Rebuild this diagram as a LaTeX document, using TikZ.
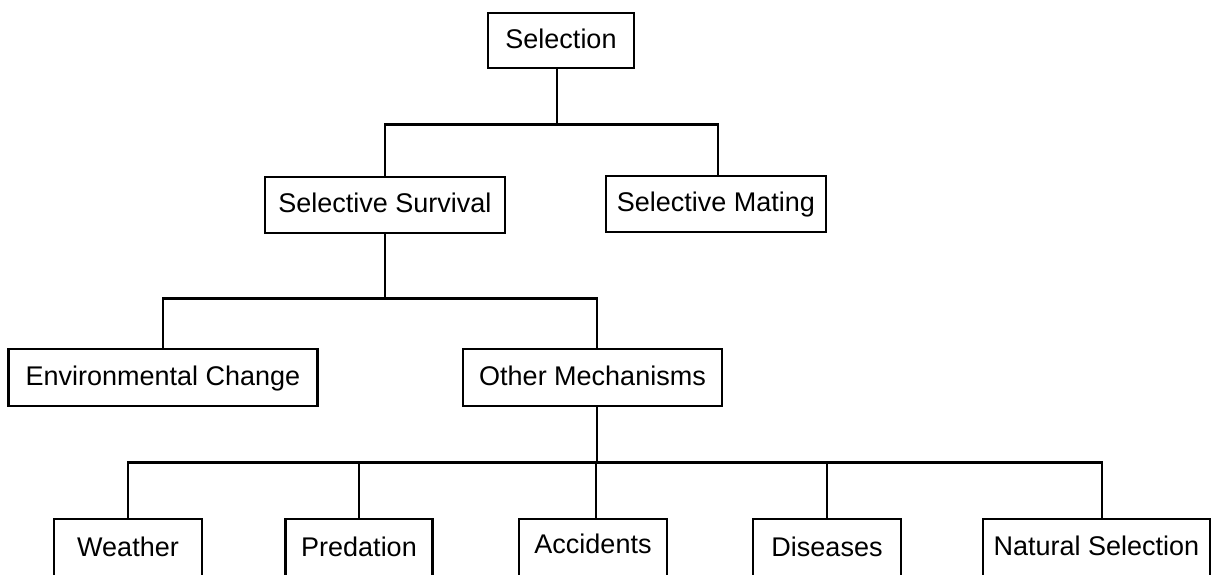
\documentclass[tikz,border=0pt]{standalone}
\usepackage{fontspec}
\setmainfont{Liberation Sans}
\begin{document}
\begin{tikzpicture}[x=1pt,y=-1pt,
  box/.style={draw=black, line width=2.6pt, fill=white, inner sep=0pt,
    minimum height=56pt, font=\fontsize{27}{32}\selectfont,
    text height=19.5pt, text depth=4.5pt},
  link/.style={draw=black, line width=2.6pt}]
\useasboundingbox (0,0) rectangle (1212,574);
\fill[white] (0,0) rectangle (1212,574);
\clip (0,0) rectangle (1212,574);

% level 0
\node[box, minimum width=146pt, minimum height=55pt] (sel) at (561,40.5) {Selection};
% level 1
\node[box, minimum width=240pt] (ss) at (385,205) {Selective Survival};
\node[box, minimum width=220pt] (sm) at (716,204) {Selective Mating};
% level 2
\node[box, minimum width=309pt, minimum height=57pt] (env) at (163,377.5) {Environmental Change};
\node[box, minimum width=259pt, minimum height=57pt] (om) at (592.5,377.5) {Other Mechanisms};
% level 3 (cut off by the lower edge)
\node[box, minimum width=148pt, minimum height=60pt] (wea) at (128,549) {Weather};
\node[box, minimum width=147pt, minimum height=60pt] (pre) at (359,549) {Predation};
\node[box, minimum width=148pt, minimum height=60pt, text depth=10pt] (acc) at (593,549) {Accidents};
\node[box, minimum width=148pt, minimum height=60pt] (dis) at (827,549) {Diseases};
\node[box, minimum width=227pt, minimum height=60pt, text depth=7pt] (nat) at (1096.5,549) {Natural Selection};

% connectors
\draw[link] ([xshift=-4pt]sel.south) -- ++(0,55) -| (ss.north);
\draw[link] ([xshift=-4pt]sel.south) -- ++(0,55) -| ([xshift=2pt]sm.north);

\draw[link] (ss.south) -- ++(0,64) -| (env.north);
\draw[link] (ss.south) -- ++(0,64) -| ([xshift=4.5pt]om.north);

\draw[link] ([xshift=4.5pt]om.south) -- ++(0,55) -| (wea.north);
\draw[link] ([xshift=4.5pt]om.south) -- ++(0,55) -| (pre.north);
\draw[link] ([xshift=4.5pt]om.south) -- ++(0,55) -| ([xshift=3pt]acc.north);
\draw[link] ([xshift=4.5pt]om.south) -- ++(0,55) -| (dis.north);
\draw[link] ([xshift=4.5pt]om.south) -- ++(0,55) -| ([xshift=5.5pt]nat.north);
\end{tikzpicture}
\end{document}
